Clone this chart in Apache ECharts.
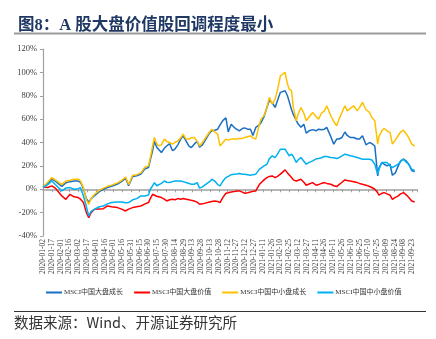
<!DOCTYPE html>
<html><head><meta charset="utf-8">
<script src="https://cdn.jsdelivr.net/npm/echarts@6/dist/echarts.min.js"></script>
<style>html,body{margin:0;padding:0;background:#fff}#c{width:436px;height:339px}</style>
</head><body><div id="c"></div>
<script>
const dates = [
'2020-01-02','2020-01-10','2020-01-17','2020-01-23','2020-02-03','2020-02-10','2020-02-17','2020-02-24','2020-03-02','2020-03-06',
'2020-03-11','2020-03-16','2020-03-20','2020-03-24','2020-03-30','2020-04-07','2020-04-14','2020-04-21','2020-04-28','2020-05-08',
'2020-05-15','2020-05-22','2020-05-27','2020-06-03','2020-06-10','2020-06-17','2020-06-24','2020-06-30','2020-07-03','2020-07-07',
'2020-07-10','2020-07-14','2020-07-17','2020-07-22','2020-07-27','2020-07-31','2020-08-05','2020-08-10','2020-08-14','2020-08-19',
'2020-08-24','2020-08-28','2020-09-02','2020-09-07','2020-09-11','2020-09-16','2020-09-21','2020-09-25','2020-09-30','2020-10-12',
'2020-10-16','2020-10-21','2020-10-26','2020-10-30','2020-11-04','2020-11-09','2020-11-13','2020-11-18','2020-11-23','2020-11-27',
'2020-12-02','2020-12-07','2020-12-11','2020-12-16','2020-12-21','2020-12-25','2020-12-30','2021-01-05','2021-01-08','2021-01-13',
'2021-01-18','2021-01-22','2021-01-27','2021-02-01','2021-02-05','2021-02-10','2021-02-18','2021-02-22','2021-02-25','2021-03-01',
'2021-03-04','2021-03-09','2021-03-12','2021-03-17','2021-03-22','2021-03-26','2021-03-31','2021-04-06','2021-04-12','2021-04-16',
'2021-04-21','2021-04-26','2021-04-30','2021-05-07','2021-05-12','2021-05-17','2021-05-21','2021-05-26','2021-05-31','2021-06-04',
'2021-06-09','2021-06-15','2021-06-21','2021-06-25','2021-06-30','2021-07-06','2021-07-12','2021-07-16','2021-07-21','2021-07-26',
'2021-07-28','2021-08-02','2021-08-06','2021-08-11','2021-08-16','2021-08-20','2021-08-25','2021-08-30','2021-09-03','2021-09-08',
'2021-09-13','2021-09-17','2021-09-22','2021-09-27'];

const largeGrowth = [
2.0,5,8.6,7,2.5,5.5,6.5,7.1,7,6,
0.5,-8,-11,-8,-5.5,-2,0,1.5,2.5,4.5,
6.5,9.5,3,11,11.5,13,17.5,18.6,25,33,
41,36,34.3,31.4,35,37,39,33,34.3,38,
43,45.7,41.4,37,35.7,38.6,41,36,38,48,
50,50.5,51.4,55,59,61,49,55.7,53,51.5,
50,52,52.5,51.4,51.4,46,52.9,55,57,62,
70,76,74,70,76,82.9,84.3,80,75,68,
64,59,56,53,55.7,48,50,51,50,51.4,
51,51.4,52.9,45,38.6,42.9,43,44.3,49,46,
44.3,44.3,43,43,45.7,38,40,39,37,11.4,
18,22.9,21.4,20,21.4,12,14,20,24,25.7,
24,21.4,16,15];

const largeValue = [
2,1.5,2.9,1,-5.7,-8.6,-4.3,-6.5,-7.1,-8.5,
-11.4,-20,-24.3,-20,-17.1,-16.8,-16.6,-14.3,-15,-15.7,
-17,-18.6,-17,-15.7,-15,-14.3,-12.5,-11.4,-8,-4.3,
-5.7,-6,-6.5,-7.1,-8.5,-10,-9,-8.6,-9,-8,
-8.5,-8,-8.5,-9,-9.5,-10,-11,-12.9,-12.5,-10.9,
-10.5,-10,-10.5,-11.4,-7,-3.4,-3,-2.3,-2,-1.6,
-1.4,-2.5,-3.4,-3,-2.3,-1.8,-1.4,4,5.7,8,
10,11,11.4,10,11,12.9,16.6,14,12.9,10,
8,7.1,8,8.6,6,3.4,4.5,5.7,3.4,4,
5,5.7,5,4.3,3,2.3,4,6,8,7.5,
7.1,6.5,5.7,5,4.3,3.5,2.3,1.5,0,-3,
-5.1,-3.5,-2.9,-4,-5.1,-8.6,-7,-5.7,-4,-2.9,
-5,-7.1,-10,-10.9];

const midSmallGrowth = [
1.4,6,10,8,4,7,7.7,8.6,8.6,7,
1.4,-9,-12.9,-8,-4.3,-1,1,2.5,3.5,5.5,
7.5,10.5,4,12,12.5,14,19,20,27,37.1,
44.3,39,37.1,38,42.9,41,40,38.6,40,41.4,
44,47.1,42.9,43,44,44.3,41,37.1,40,49,
51.4,49,47.1,37.1,40,42.9,42,42.9,43,43,
43.4,43.5,44.3,45,45.7,44,42.9,55.7,60,63,
70,78.6,72.9,77.1,85,97.1,100,90,85.7,84.3,
70,58.6,64,70,65,58.6,62,65.7,62,60,
65,67.1,71.4,62.9,58,54.3,60,65.7,71.4,67.1,
69,71.4,67.1,70,74.3,68,65.7,61.4,58.6,38.6,
45,50,52,50,48.6,38.6,42,46,49,50.6,
47.1,44,38.6,37];

const midSmallValue = [
1.4,4,7.1,4,-1.4,1,1.4,0,0.5,1.4,
-5.7,-15,-22.9,-19,-17.1,-15,-14.3,-12.5,-11.4,-11,
-10.9,-11.5,-11.4,-9,-8,-5.7,-5.7,-5,0,3,
5.7,3,1.4,5,7.1,6,5.7,6.5,7.1,7,
7.1,6.5,5.7,5,4.3,4.3,5.7,1,2,6.5,
8.6,7,4,2.9,7,10,11,12.5,12.9,13,
13.4,12.9,12.9,12.5,12,12.5,12.9,17,18.6,20,
21.4,26,28.6,27.1,30,34.3,34.3,31,28.6,30,
28,22.9,25,27.1,24,21.4,23,24.3,26,26.3,
27,28,28,27.1,27,26.3,27,28.5,30,29.5,
28.6,28,27.1,26.5,25.7,25.7,25.7,25,21.4,12.9,
17,22.9,22.9,22.9,20,18.6,20,21.4,24,25.7,
23,21.4,17.1,16];

const seriesNames = ['MSCI中国大盘成长','MSCI中国大盘价值','MSCI中国中小盘成长','MSCI中国中小盘价值'];
const yTicks = [-40,-20,0,20,40,60,80,100,120];
const startDate = '2020-01-02';
const tickStepDays = 15;
const endDays = 638;

const DAY = 86400000;
const t0 = Date.parse(startDate + 'T00:00:00Z');
const dayOf = d => Math.round((Date.parse(d + 'T00:00:00Z') - t0) / DAY);
const labelOf = n => {
  if (n % tickStepDays !== 0) return '';
  const dt = new Date(t0 + n * DAY);
  const p = x => String(x).padStart(2, '0');
  return dt.getUTCFullYear() + '-' + p(dt.getUTCMonth() + 1) + '-' + p(dt.getUTCDate());
};
const pairs = arr => arr.map((v, i) => [dayOf(dates[i]), v]);

const colors = ['#1a6fc4', '#ff0000', '#ffc000', '#00b0f0'];
const values = [largeGrowth, largeValue, midSmallGrowth, midSmallValue];

const serif = "'Liberation Serif','Times New Roman','Noto Sans CJK SC'";
const chart = echarts.init(document.getElementById('c'), null, {renderer: 'canvas'});
chart.setOption({
  animation: false,
  color: colors,
  title: {
    text: '图8：A 股大盘价值股回调程度最小',
    left: 13, top: 12,
    textStyle: {fontSize: 16.5, fontWeight: 'bold', color: '#1f3864', fontFamily: serif}
  },
  graphic: [
    {type: 'line', shape: {x1: 14, y1: 33.5, x2: 426, y2: 33.5}, style: {stroke: '#9a9a9a', lineWidth: 2}},
    {type: 'line', shape: {x1: 14, y1: 311.5, x2: 426, y2: 311.5}, style: {stroke: '#333', lineWidth: 1.2}},
    {type: 'text', left: 14, top: 315, style: {text: '数据来源：Wind、开源证券研究所', fontSize: 14.5, fill: '#333', fontFamily: "'Noto Sans CJK SC'"}}
  ],
  legend: {
    bottom: 38, left: 41,
    itemWidth: 16, itemHeight: 2, itemGap: 11,
    icon: 'rect',
    textStyle: {fontSize: 7, color: '#333', fontFamily: serif, padding: [0, 0, 0, -3]},
    data: seriesNames
  },
  grid: {left: 43, right: 19, top: 49, bottom: 103, containLabel: false},
  xAxis: [{
    type: 'value', min: 0, max: endDays, interval: tickStepDays,
    axisLine: {show: false, onZero: false}, axisTick: {show: false}, splitLine: {show: false},
    axisLabel: {rotate: 90, fontSize: 7.5, color: '#404040', fontFamily: serif, margin: 3,
      showMaxLabel: false, formatter: v => labelOf(v)}
  }, {
    type: 'value', min: 0, max: endDays, interval: tickStepDays, position: 'bottom',
    axisLine: {show: true, onZero: true, lineStyle: {color: '#a0a0a0', width: 1.5}},
    axisTick: {show: true, length: 3, lineStyle: {color: '#a0a0a0'}},
    axisLabel: {show: false}, splitLine: {show: false}
  }],
  yAxis: {
    type: 'value', min: yTicks[0], max: yTicks[yTicks.length - 1], interval: 20,
    axisLine: {show: true, lineStyle: {color: '#a0a0a0', width: 1.2}},
    axisTick: {show: true, length: 3, lineStyle: {color: '#a0a0a0'}},
    splitLine: {show: false},
    axisLabel: {fontSize: 8.5, color: '#404040', fontFamily: serif, margin: 6, formatter: '{value}%'}
  },
  series: seriesNames.map((n, i) => ({
    name: n, type: 'line', data: pairs(values[i]), showSymbol: false, symbol: 'none',
    lineStyle: {width: 1.5, color: colors[i]}, itemStyle: {color: colors[i]}
  }))
});
</script></body></html>
